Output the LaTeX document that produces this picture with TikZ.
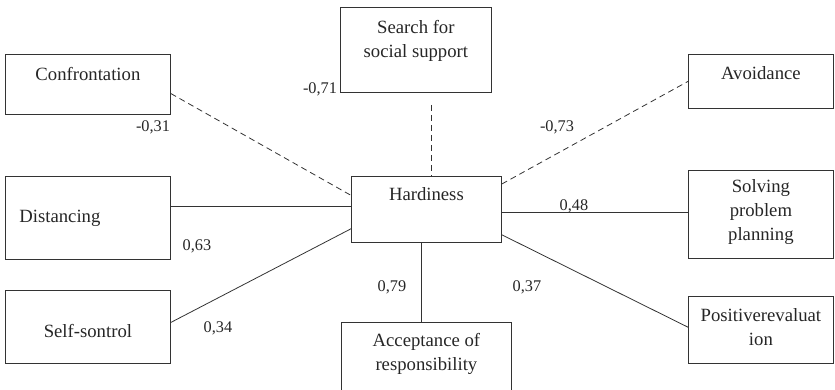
\documentclass[tikz,border=0pt]{standalone}
\usepackage{fontspec}
\setmainfont{Liberation Serif}
\usetikzlibrary{calc}
\tikzset{
    box/.style =    {rectangle,
                    draw=black!80,
                    text=black!85,
                    line width=0.8pt,
                    inner sep=0pt,
                    anchor=north west,
                    align=center,
                    font=\fontsize{18.7}{24}\selectfont},
    coef/.style =   {text=black!85,
                    inner sep=0pt,
                    font=\fontsize{16.3}{19}\selectfont},
    link/.style =   {line width=0.8pt,
                    draw=black!80},
    neg/.style =    {link,
                    dash pattern=on 6pt off 4pt}}

\begin{document}
\begin{tikzpicture}[x=1pt,y=-1pt]
                \useasboundingbox (0,0) rectangle (835,390);

                \node[box,minimum width=165pt,text height=26pt,text depth=34pt]     (conf)   at (5,54)    {Confrontation};
                \node[box,minimum width=151pt,text height=50pt,text depth=35pt]     (search) at (340,7)   {Search for\\social support};
                \node[box,minimum width=145pt,text height=25pt,text depth=29pt]     (avoid)  at (688,54)  {Avoidance};
                \node[box,minimum width=150pt,text height=24pt,text depth=42pt]     (hard)   at (351,176) {Hardiness};
                \node[box,text width=137pt,align=left,inner xsep=14pt,
                      text height=46pt,text depth=37pt]                              (dist)   at (5,176)   {Distancing};
                \node[box,minimum width=165pt,text height=47pt,text depth=26pt]     (self)   at (5,290)   {Self-sontrol};
                \node[box,minimum width=170pt,text height=48pt,text depth=23pt]     (accept) at (341,322) {Acceptance of\\responsibility};
                \node[box,minimum width=145pt,text height=70pt,text depth=18pt]     (solve)  at (688,170) {Solving\\problem\\planning};
                \node[box,minimum width=145pt,text height=49pt,text depth=18pt]     (pos)    at (688,296) {Positiverevaluat\\ion};

                % coefficients
                \node[coef] (k1) at (153,127) {-0,31};
                \node[coef] (k2) at (320,89)  {-0,71};
                \node[coef] (k3) at (557,127) {-0,73};
                \node[coef] (k4) at (197,246) {0,63};
                \node[coef] (k5) at (218,328) {0,34};
                \node[coef] (k6) at (392,287) {0,79};
                \node[coef] (k7) at (574,206) {0,48};
                \node[coef] (k8) at (527,287) {0,37};

                \coordinate (s) at ($(search.south west)!0.6!(search.south east)$);
                \coordinate (d) at ($(dist.north east)!0.36!(dist.south east)$);
                \coordinate (p) at ($(hard.north east)!0.55!(hard.south east)$);
                \coordinate (a) at ($(hard.south west)!0.47!(hard.south east)$);

                \draw[neg]  ($(conf.north east)!0.65!(conf.south east)$) -- ($(hard.north west)!0.29!(hard.south west)$);
                \draw[neg,shorten <=12pt] (s) -- (s |- hard.north);
                \draw[neg]  ($(hard.north east)!0.12!(hard.south east)$) -- (avoid.west);
                \draw[link] (d) -- (d -| hard.west);
                \draw[link] ($(self.north east)!0.44!(self.south east)$) -- ($(hard.north west)!0.79!(hard.south west)$);
                \draw[link] (p) -- (p -| solve.west);
                \draw[link] ($(hard.north east)!0.88!(hard.south east)$) -- ($(pos.north west)!0.46!(pos.south west)$);
                \draw[link] (a) -- (a |- accept.north);
\end{tikzpicture}
\end{document}
